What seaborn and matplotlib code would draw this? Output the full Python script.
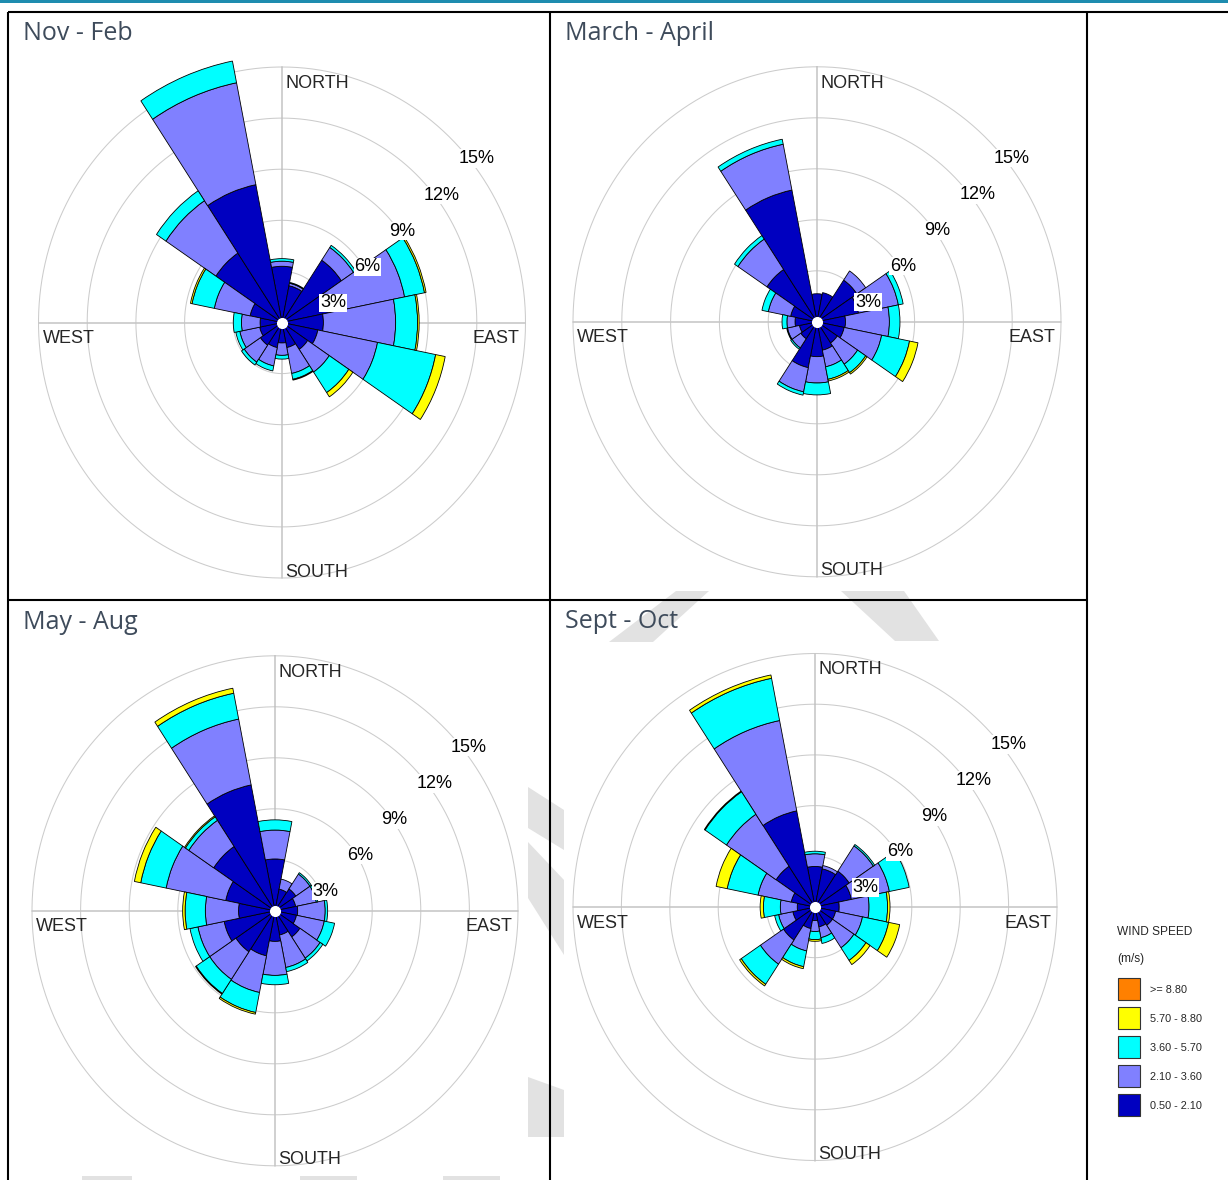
import numpy as np
import matplotlib
matplotlib.use("Agg")
import matplotlib.pyplot as plt
import seaborn as sns
from matplotlib import font_manager
from matplotlib.patches import Polygon, Rectangle

# ---------------- data ----------------
directions = ['N', 'NNE', 'NE', 'ENE', 'E', 'ESE', 'SE', 'SSE',
              'S', 'SSW', 'SW', 'WSW', 'W', 'WNW', 'NW', 'NNW']
speed_bins = ['0.50 - 2.10', '2.10 - 3.60', '3.60 - 5.70', '5.70 - 8.80', '>= 8.80']
bin_colors = ['#0000c0', '#8080ff', '#00ffff', '#ffff00', '#ff8000']
ring_values = [3, 6, 9, 12, 15]
ring_labels = ['3%', '6%', '9%', '12%', '15%']
compass_labels = ['NORTH', 'EAST', 'SOUTH', 'WEST']
panel_titles = ['Nov - Feb', 'March - April', 'May - Aug', 'Sept - Oct']
legend_title = ['WIND SPEED', '(m/s)']

# frequency (%) per direction (N..NNW) for each speed bin
novfeb_b1 = [3.3, 2.2, 4.4, 3.0, 2.55, 2.25, 1.9, 1.5, 1.2, 1.5, 1.6, 1.4, 1.35, 2.0, 4.9, 8.25]
novfeb_b2 = [0.3, 0.15, 0.9, 4.7, 4.45, 3.75, 1.6, 1.55, 0.73, 1.1, 1.2, 1.25, 1.15, 2.25, 3.7, 6.1]
novfeb_b3 = [0.15, 0.05, 0.15, 1.25, 1.35, 3.65, 1.45, 0.35, 0.22, 0.3, 0.2, 0.25, 0.5, 1.4, 0.7, 1.3]
novfeb_b4 = [0, 0, 0, 0.1, 0.1, 0.6, 0.3, 0.05, 0, 0, 0, 0, 0, 0.1, 0, 0]
novfeb_b5 = [0] * 16

marapr_b1 = [1.65, 1.75, 2.95, 2.6, 1.75, 1.7, 1.5, 1.7, 2.05, 2.75, 1.2, 1.1, 1.35, 1.65, 3.7, 7.9]
marapr_b2 = [0, 0, 0.65, 2.5, 2.7, 2.35, 1.5, 1.0, 1.55, 1.45, 0.65, 0.75, 0.5, 1.4, 2.15, 2.75]
marapr_b3 = [0, 0, 0, 0.3, 0.65, 1.75, 0.6, 0.75, 0.7, 0.2, 0.1, 0.05, 0.3, 0.4, 0.25, 0.3]
marapr_b4 = [0, 0, 0, 0, 0, 0.53, 0.1, 0.1, 0, 0, 0, 0, 0, 0, 0, 0]
marapr_b5 = [0] * 16

mayaug_b1 = [3.05, 1.3, 1.55, 1.3, 1.4, 1.35, 1.85, 1.45, 1.8, 2.7, 2.9, 3.2, 2.25, 3.1, 4.55, 7.55]
mayaug_b2 = [1.7, 0.6, 1.05, 1.3, 1.7, 1.75, 1.5, 1.95, 2.0, 2.2, 1.95, 1.65, 2.05, 3.75, 1.85, 3.95]
mayaug_b3 = [0.6, 0, 0.1, 0.1, 0.15, 0.65, 0.2, 0.25, 0.55, 1.2, 1.0, 0.5, 1.25, 1.6, 0.25, 1.55]
mayaug_b4 = [0, 0, 0, 0, 0, 0, 0, 0, 0, 0.1, 0.05, 0, 0.15, 0.4, 0.07, 0.3]
mayaug_b5 = [0] * 16

sepoct_b1 = [2.4, 2.3, 2.55, 2.3, 1.5, 1.3, 1.3, 1.2, 0.8, 1.3, 2.35, 1.4, 1.1, 1.5, 2.9, 5.8]
sepoct_b2 = [0.75, 0.2, 1.8, 2.4, 1.85, 1.7, 1.6, 0.65, 0.65, 1.35, 1.72, 0.9, 1.05, 2.1, 3.7, 5.45]
sepoct_b3 = [0.15, 0, 0.1, 1.25, 1.15, 1.65, 0.9, 0.35, 0.48, 0.95, 1.43, 0.25, 1.05, 1.95, 1.6, 2.55]
sepoct_b4 = [0, 0, 0, 0, 0.15, 0.7, 0.3, 0, 0.1, 0.12, 0.12, 0, 0.2, 0.7, 0.05, 0.2]
sepoct_b5 = [0] * 16

panels = [
    [novfeb_b1, novfeb_b2, novfeb_b3, novfeb_b4, novfeb_b5],
    [marapr_b1, marapr_b2, marapr_b3, marapr_b4, marapr_b5],
    [mayaug_b1, mayaug_b2, mayaug_b3, mayaug_b4, mayaug_b5],
    [sepoct_b1, sepoct_b2, sepoct_b3, sepoct_b4, sepoct_b5],
]

# ---------------- layout / style ----------------
W, H = 1228, 1180
RMAX = 17.0
# centre x, centre y, half-width and half-height of the 15 % ring (pixels)
panel_geom = [(282, 322.5, 243.5, 255.5), (817, 321.8, 244, 255),
              (275, 910.8, 243, 255), (815, 907, 242, 253.5)]
title_pos = [(23, 40), (565, 40), (23, 629), (565, 628.5)]
ring_label_pos = [(74.1, 3.26), (60.3, 6.07), (55.35, 8.97), (53.8, 12.22), (52.0, 15.2)]

sns.set_theme(style='white')
plt.rcParams['font.family'] = ['Liberation Sans', 'DejaVu Sans']
names = {f.name for f in font_manager.fontManager.ttflist}
narrow = 'Liberation Sans Narrow' if 'Liberation Sans Narrow' in names else None
title_font = 'Open Sans' if 'Open Sans' in names else 'DejaVu Sans'
if narrow:
    leg_family, leg_title_size, leg_label_size = [narrow, 'DejaVu Sans'], 10, 9
else:
    leg_family, leg_title_size, leg_label_size = ['Liberation Sans', 'DejaVu Sans'], 8.6, 7.8

palette = sns.color_palette(bin_colors)

fig = plt.figure(figsize=(W / 100, H / 100), dpi=100)
fig.patch.set_facecolor('white')

# background overlay (watermark)
bg = fig.add_axes([0, 0, 1, 1], zorder=-5)
bg.set_xlim(0, W); bg.set_ylim(H, 0); bg.set_axis_off()
wm_color = '#e2e2e2'
wm_polys = [
    [(609, 642), (653, 642), (709, 591), (676, 591)],
    [(841, 591), (904, 591), (939, 641), (895, 641)],
    [(528, 787), (564, 810), (564, 850), (528, 828)],
    [(528, 842), (564, 880), (564, 955), (528, 898)],
    [(528, 1077), (564, 1090), (564, 1137), (528, 1137)],
    [(82, 1176), (132, 1176), (132, 1180), (82, 1180)],
    [(300, 1176), (357, 1176), (357, 1180), (300, 1180)],
    [(443, 1176), (500, 1176), (500, 1180), (443, 1180)],
]
for p in wm_polys:
    bg.add_patch(Polygon(p, closed=True, facecolor=wm_color, edgecolor='none'))

theta = np.deg2rad(np.arange(len(directions)) * 22.5)
width = 2 * np.pi / len(directions)
circ = np.linspace(0, 2 * np.pi, 400)

for k, (cx, cy, rx, ry) in enumerate(panel_geom):
    aw = 2 * rx * RMAX / 15
    ah = 2 * ry * RMAX / 15
    left = cx - aw / 2
    top = cy - ah / 2
    ax = fig.add_axes([left / W, 1 - (top + ah) / H, aw / W, ah / H], projection='polar')
    ax.set_aspect('auto')
    ax.set_theta_zero_location('N')
    ax.set_theta_direction(-1)
    ax.set_ylim(0, RMAX)
    ax.set_axis_off()

    for rv in ring_values:
        ax.plot(circ, np.full_like(circ, rv), color='#cccccc', lw=0.75, zorder=1)
    for a in [0, 90, 180, 270]:
        ax.plot([np.deg2rad(a)] * 2, [0, 15], color='#c4c4c4', lw=1.1, zorder=1)

    bottom = np.zeros(len(directions))
    for j, series in enumerate(panels[k]):
        h = np.asarray(series, dtype=float)
        m = h > 0
        if m.any():
            ax.bar(theta[m], h[m], width=width, bottom=bottom[m], color=palette[j],
                   edgecolor='black', linewidth=0.6, zorder=2, align='center')
        bottom = bottom + h

    ax.plot([0], [0], marker='o', ms=8, mfc='white', mec='none', zorder=5)

    for (b, r), lab in zip(ring_label_pos, ring_labels):
        ax.text(np.deg2rad(b), r, lab, ha='center', va='baseline', fontsize=13,
                color='black', zorder=6,
                bbox=dict(facecolor='white', edgecolor='none', pad=0.5))

    ax.annotate(compass_labels[0], xy=(0, 13.76), xytext=(3.7, 0), textcoords='offset pixels',
                ha='left', va='baseline', fontsize=13, zorder=6)
    ax.annotate(compass_labels[1], xy=(np.pi / 2, 14.64), xytext=(0, -20.5), textcoords='offset pixels',
                ha='right', va='baseline', fontsize=13, zorder=6)
    ax.annotate(compass_labels[2], xy=(np.pi, 14.92), xytext=(3.7, 0), textcoords='offset pixels',
                ha='left', va='baseline', fontsize=13, zorder=6)
    ax.annotate(compass_labels[3], xy=(3 * np.pi / 2, 14.73), xytext=(0, -20.5), textcoords='offset pixels',
                ha='left', va='baseline', fontsize=13, zorder=6)

# foreground overlay: borders, titles, legend
fg = fig.add_axes([0, 0, 1, 1], zorder=10)
fg.set_xlim(0, W); fg.set_ylim(H, 0); fg.set_axis_off()
fg.patch.set_alpha(0)

fg.add_patch(Rectangle((0, 0), W, 2.5, facecolor='#1e8caf', edgecolor='none'))
lk = dict(color='black', lw=1.5, solid_capstyle='butt')
fg.plot([8, W], [12, 12], **lk)
fg.plot([8, 1087], [600, 600], **lk)
for x in [8, 550, 1087]:
    fg.plot([x, x], [12, H], **lk)

for (tx, ty), t in zip(title_pos, panel_titles):
    fg.text(tx, ty, t, ha='left', va='baseline', fontsize=18, color='#3e4b5b',
            family=[title_font, 'DejaVu Sans'])

fg.text(1117, 935, legend_title[0], ha='left', va='baseline', fontsize=leg_title_size,
        family=leg_family)
fg.text(1117, 962, legend_title[1], ha='left', va='baseline', fontsize=leg_title_size,
        family=leg_family)
for i, j in enumerate(range(len(speed_bins) - 1, -1, -1)):
    y0 = 978 + 29 * i
    fg.add_patch(Rectangle((1117.5, y0), 22, 21.5, facecolor=palette[j],
                           edgecolor='#333333', lw=0.8))
    fg.text(1150, y0 + 15.3, speed_bins[j], ha='left', va='baseline', fontsize=leg_label_size,
            family=leg_family)

fig.savefig('out.png', dpi=100, facecolor='white')
